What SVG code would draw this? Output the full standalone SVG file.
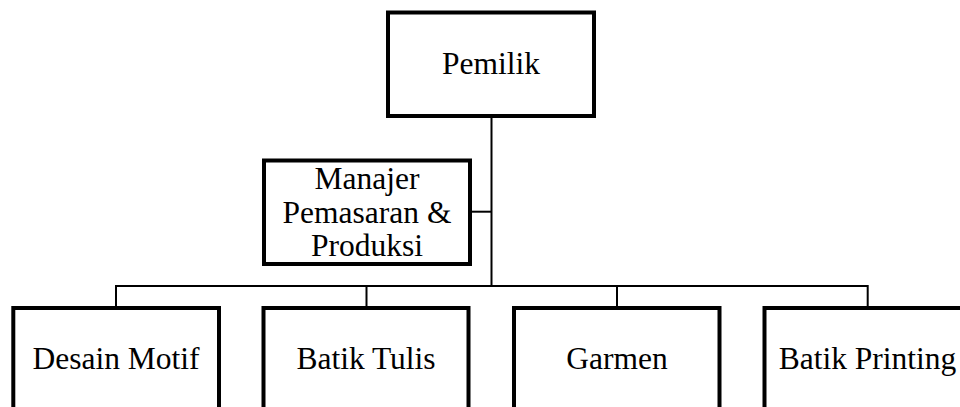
<svg xmlns="http://www.w3.org/2000/svg" width="960" height="407" viewBox="0 0 960 407">
<style>
.box{fill:#fff;stroke:#000;stroke-width:4}
.ln{fill:none;stroke:#000;stroke-width:2}
text{font-family:"Liberation Serif","Times New Roman",serif;font-size:31.5px;fill:#000;text-anchor:middle}
</style>
<rect width="960" height="407" fill="#fff"/>
<g id="connectors">
<path class="ln" d="M491.5 118V286"/>
<path class="ln" d="M472 211.7H491.5"/>
<path class="ln" d="M116 306V286H867.7V306"/>
<path class="ln" d="M366.5 286V306"/>
<path class="ln" d="M617 286V306"/>
</g>
<g id="pemilik">
<rect class="box" x="388" y="12.5" width="206" height="103.5"/>
<text x="491" y="74">Pemilik</text>
</g>
<g id="manajer">
<rect class="box" x="264" y="160.5" width="206" height="103.5"/>
<text x="367" y="189.3">Manajer</text>
<text x="367" y="222.5">Pemasaran &amp;</text>
<text x="367" y="255.5">Produksi</text>
</g>
<g id="desain">
<rect class="box" x="13.3" y="308" width="205.7" height="130"/>
<text x="116" y="369">Desain Motif</text>
</g>
<g id="tulis">
<rect class="box" x="263.5" y="308" width="205" height="130"/>
<text x="366" y="369">Batik Tulis</text>
</g>
<g id="garmen">
<rect class="box" x="514" y="308" width="205.5" height="130"/>
<text x="617" y="369">Garmen</text>
</g>
<g id="printing">
<rect class="box" x="764.5" y="308" width="206" height="130"/>
<text x="867.5" y="369">Batik Printing</text>
</g>
</svg>
